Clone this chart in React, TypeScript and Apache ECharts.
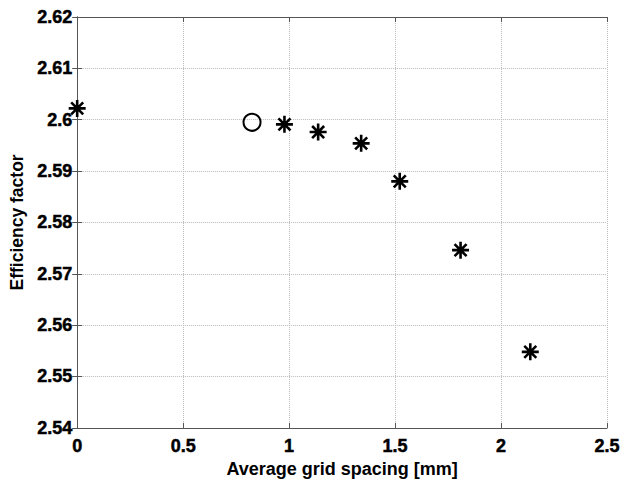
import React, { useEffect, useRef } from "react";
import * as echarts from "echarts";

const starX = [0.0, 0.978, 1.137, 1.34, 1.522, 1.809, 2.138];
const starY = [2.6022, 2.5991, 2.5976, 2.5954, 2.5880, 2.5746, 2.5548];
const circleX = [0.825];
const circleY = [2.5995];
const xTicks = [0, 0.5, 1, 1.5, 2, 2.5];
const yTicks = [2.54, 2.55, 2.56, 2.57, 2.58, 2.59, 2.6, 2.61, 2.62];

const FONT = "Liberation Sans";
const AXIS_COLOR = "#555";
const STAR = "path://M0 -10 L0 10 M-10 0 L10 0 M-7.07 -7.07 L7.07 7.07 M-7.07 7.07 L7.07 -7.07";

export default function App() {
  const ref = useRef<HTMLDivElement>(null);
  useEffect(() => {
    if (!ref.current) return;
    const chart = echarts.init(ref.current, undefined, { renderer: "svg" });
    const labelStyle = {
      color: "#000",
      fontFamily: FONT,
      fontWeight: "bold" as const,
      fontSize: 18,
      textBorderColor: "#000",
      textBorderWidth: 0.5,
    };
    const axisLine = { show: true, lineStyle: { color: AXIS_COLOR, width: 1 } };
    const tick = { show: true, inside: true, length: 5, lineStyle: { color: AXIS_COLOR } };
    const grid = { show: true, lineStyle: { color: "#bbb", type: "dotted" as const, width: 1 } };
    chart.setOption({
      animation: false,
      backgroundColor: "#fff",
      grid: { left: 77, top: 17, right: 28, bottom: 49, containLabel: false },
      xAxis: [
        {
          type: "value",
          min: xTicks[0],
          max: xTicks[xTicks.length - 1],
          interval: 0.5,
          position: "bottom",
          axisLine,
          axisTick: tick,
          splitLine: grid,
          axisLabel: { ...labelStyle, margin: 9, formatter: (v: number) => String(+v.toFixed(2)) },
          name: "Average grid spacing [mm]",
          nameLocation: "middle",
          nameGap: 26,
          nameTextStyle: { color: "#000", fontFamily: FONT, fontWeight: "bold", fontSize: 18 },
        },
        {
          type: "value",
          min: xTicks[0],
          max: xTicks[xTicks.length - 1],
          interval: 0.5,
          position: "top",
          axisLine,
          axisTick: tick,
          splitLine: { show: false },
          axisLabel: { show: false },
        },
      ],
      yAxis: [
        {
          type: "value",
          min: yTicks[0],
          max: yTicks[yTicks.length - 1],
          interval: 0.01,
          position: "left",
          axisLine,
          axisTick: tick,
          splitLine: grid,
          axisLabel: { ...labelStyle, margin: 5, formatter: (v: number) => String(+v.toFixed(2)) },
          name: "Efficiency factor",
          nameLocation: "middle",
          nameGap: 41,
          nameTextStyle: { color: "#000", fontFamily: FONT, fontWeight: "bold", fontSize: 17.5 },
        },
        {
          type: "value",
          min: yTicks[0],
          max: yTicks[yTicks.length - 1],
          interval: 0.01,
          position: "right",
          axisLine,
          axisTick: tick,
          splitLine: { show: false },
          axisLabel: { show: false },
        },
      ],
      series: [
        {
          type: "scatter",
          xAxisIndex: 0,
          yAxisIndex: 0,
          data: starX.map((x, i) => [x, starY[i]]),
          symbol: STAR,
          symbolSize: 17,
          itemStyle: { color: "none", borderColor: "#000", borderWidth: 2.6, opacity: 1 },
          clip: false,
          z: 5,
        },
        {
          type: "scatter",
          xAxisIndex: 0,
          yAxisIndex: 0,
          data: circleX.map((x, i) => [x, circleY[i]]),
          symbol: "circle",
          symbolSize: 17,
          itemStyle: { color: "none", borderColor: "#000", borderWidth: 2, opacity: 1 },
          z: 5,
        },
      ],
    });
    return () => chart.dispose();
  }, []);
  return (
    <div
      ref={ref}
      style={{ position: "fixed", left: 0, top: 0, width: 635, height: 483, background: "#fff" }}
    />
  );
}
